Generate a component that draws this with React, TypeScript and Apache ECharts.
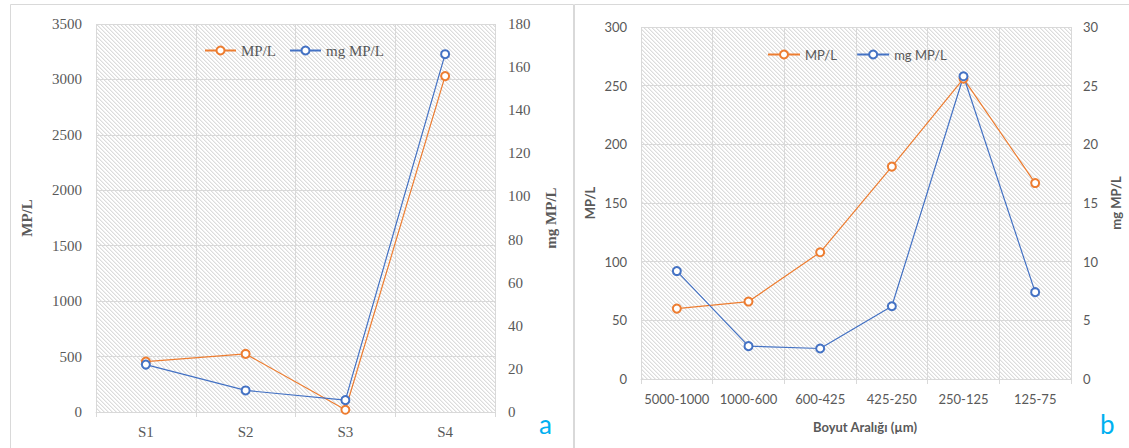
import React, { useEffect, useRef } from "react";
import * as echarts from "echarts";

const cats1 = ["S1", "S2", "S3", "S4"];
const mpl1 = [455, 524, 20, 3030];
const mg1 = [22, 10, 5.5, 166];

const cats2 = ["5000-1000", "1000-600", "600-425", "425-250", "250-125", "125-75"];
const mpl2 = [60, 66, 108, 181, 256, 167];
const mg2 = [9.2, 2.8, 2.6, 6.2, 25.8, 7.4];

const ORANGE = "#ED7D31";
const BLUE = "#4472C4";
const GRID = "#d9d9d9";
const TXT = "#595959";
const SERIF = "'Liberation Serif', 'DejaVu Serif', serif";
const SANS = "Lato, 'Open Sans', sans-serif";

function makeHatch() {
  const c = document.createElement("canvas");
  c.width = 8;
  c.height = 8;
  const ctx = c.getContext("2d")!;
  ctx.fillStyle = "#ffffff";
  ctx.fillRect(0, 0, 8, 8);
  for (let y = 0; y < 8; y++) {
    for (let x = 0; x < 8; x++) {
      const m = (((x - y) % 4) + 4) % 4;
      if (m === 0) {
        ctx.fillStyle = "#dcdcdc";
        ctx.fillRect(x, y, 1, 1);
      } else if (m === 1) {
        ctx.fillStyle = "#efefef";
        ctx.fillRect(x, y, 1, 1);
      }
    }
  }
  return c;
}

export default function App() {
  const ref = useRef<HTMLDivElement>(null);
  useEffect(() => {
    if (!ref.current) return;
    const chart = echarts.init(ref.current, undefined, { renderer: "svg" });
    const hatch = makeHatch();
    const pattern: any = { image: hatch, repeat: "repeat", imageWidth: 8, imageHeight: 8 };

    const serieStyle = (color: string) => ({
      type: "line" as const,
      symbol: "emptyCircle",
      symbolSize: 8,
      color,
      lineStyle: { width: 1.2, color },
      itemStyle: { color, borderWidth: 1.6 },
    });

    const catAxis = (gridIndex: number, data: string[], font: string, size: number, margin: number) => ({
      type: "category" as const,
      gridIndex,
      data,
      boundaryGap: true,
      axisLine: { show: true, lineStyle: { color: GRID, width: 1 } },
      axisTick: { show: true, length: 5, interval: 0, lineStyle: { color: GRID } },
      splitLine: { show: true, interval: 0, lineStyle: { color: GRID, width: 1 } },
      axisLabel: { color: TXT, fontFamily: font, fontSize: size, margin, interval: 0 },
    });

    const valAxis = (
      gridIndex: number,
      max: number,
      interval: number,
      position: "left" | "right",
      name: string,
      nameGap: number,
      font: string,
      size: number,
      split: boolean,
      margin: number
    ) => ({
      type: "value" as const,
      gridIndex,
      min: 0,
      max,
      interval,
      position,
      name,
      nameLocation: "middle" as const,
      nameGap,
      nameRotate: 90,
      nameTextStyle: { color: TXT, fontFamily: font, fontSize: size, fontWeight: "bold" as const },
      axisLine: { show: false },
      axisTick: { show: false },
      splitLine: { show: split, lineStyle: { color: GRID, width: 1 } },
      axisLabel: { color: TXT, fontFamily: font, fontSize: size, margin, formatter: (v: number) => String(v) },
    });

    chart.setOption({
      animation: false,
      backgroundColor: "#ffffff",
      grid: [
        { left: 96, top: 24, width: 399, height: 388, show: true, backgroundColor: pattern, borderWidth: 0 },
        { left: 641, top: 27, width: 430, height: 352, show: true, backgroundColor: pattern, borderWidth: 0 },
      ],
      legend: [
        {
          left: 204,
          top: 43,
          padding: 0,
          itemWidth: 31,
          itemHeight: 10,
          itemGap: 13,
          textStyle: { color: TXT, fontFamily: SERIF, fontSize: 15 },
          data: ["MP/L", "mg MP/L"],
        },
        {
          left: 767,
          top: 48,
          padding: 0,
          itemWidth: 32,
          itemHeight: 10,
          itemGap: 16,
          textStyle: { color: TXT, fontFamily: SANS, fontSize: 13 },
          data: ["MP/L ", "mg MP/L "],
        },
      ],
      xAxis: [
        catAxis(0, cats1, SERIF, 15, 12),
        {
          ...catAxis(1, cats2, SANS, 13, 13),
          name: "Boyut Aralığı (µm)",
          nameLocation: "middle",
          nameGap: 41,
          nameTextStyle: { color: TXT, fontFamily: SANS, fontSize: 13, fontWeight: "bold", padding: [0, 0, 0, 18] },
        },
      ],
      yAxis: [
        valAxis(0, 3500, 500, "left", "MP/L", 62, SERIF, 15, true, 14),
        valAxis(0, 180, 20, "right", "mg MP/L", 48, SERIF, 15, false, 13),
        valAxis(1, 300, 50, "left", "MP/L", 45, SANS, 13, true, 14),
        valAxis(1, 30, 5, "right", "mg MP/L", 38, SANS, 13, false, 12),
      ],
      series: [
        { ...serieStyle(ORANGE), name: "MP/L", xAxisIndex: 0, yAxisIndex: 0, data: mpl1 },
        { ...serieStyle(BLUE), name: "mg MP/L", xAxisIndex: 0, yAxisIndex: 1, data: mg1 },
        { ...serieStyle(ORANGE), name: "MP/L ", xAxisIndex: 1, yAxisIndex: 2, data: mpl2 },
        { ...serieStyle(BLUE), name: "mg MP/L ", xAxisIndex: 1, yAxisIndex: 3, data: mg2 },
      ],
      graphic: [
        {
          type: "rect",
          shape: { x: 10.5, y: 4.5, width: 563, height: 470 },
          style: { fill: "none", stroke: GRID, lineWidth: 1 },
          z: -1,
        },
        {
          type: "rect",
          shape: { x: 574.5, y: 4.5, width: 570, height: 470 },
          style: { fill: "none", stroke: GRID, lineWidth: 1 },
          z: -1,
        },
        {
          type: "text",
          x: 539,
          y: 424,
          style: { text: "a", font: "26px Lato, sans-serif", fill: "#00B0F0", verticalAlign: "middle" },
        },
        {
          type: "text",
          x: 1100,
          y: 424,
          style: { text: "b", font: "26px Lato, sans-serif", fill: "#00B0F0", verticalAlign: "middle" },
        },
      ],
    });
    return () => chart.dispose();
  }, []);
  return (
    <div
      ref={ref}
      style={{ position: "absolute", left: 0, top: 0, width: 1129, height: 448 }}
    />
  );
}
